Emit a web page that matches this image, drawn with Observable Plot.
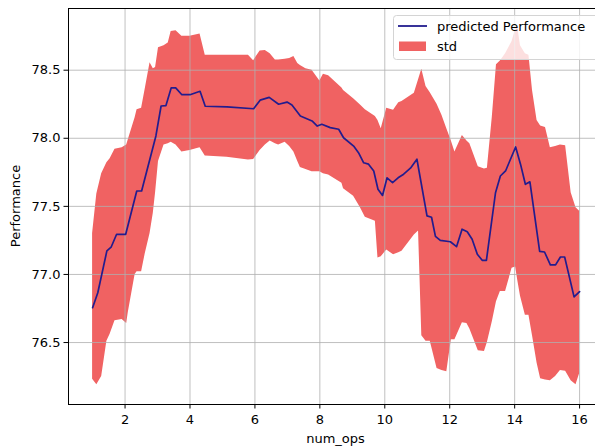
<!DOCTYPE html>
<html><head><meta charset="utf-8">
<script src="https://cdn.jsdelivr.net/npm/d3@7"></script>
<script src="https://cdn.jsdelivr.net/npm/@observablehq/plot@0.6"></script>
<style>body{margin:0;background:#fff;} svg{display:block}</style>
</head><body><div id="chart"></div>
<script>
const bandX  = [1.00,1.13,1.28,1.44,1.54,1.69,1.91,2.05,2.10,2.31,2.37,2.51,2.62,2.77,2.87,2.94,3.03,3.20,3.33,3.42,3.57,3.75,4.00,4.31,4.47,5.14,5.80,5.96,6.16,6.32,6.47,6.63,6.73,6.93,7.07,7.20,7.32,7.40,7.57,7.76,8.00,8.11,8.27,8.68,8.73,9.04,9.25,9.40,9.71,9.79,9.89,10.06,10.27,10.43,10.53,10.91,11.04,11.14,11.27,11.40,11.61,11.76,11.91,12.05,12.16,12.39,12.53,12.62,12.88,13.07,13.16,13.31,13.44,13.56,13.72,13.92,14.03,14.10,14.18,14.33,14.44,14.55,14.69,14.80,14.95,15.10,15.26,15.41,15.57,15.74,15.89,16.00];
const bandLo = [76.23,76.19,76.25,76.51,76.56,76.66,76.67,76.64,76.72,77.00,77.02,77.02,77.15,77.30,77.45,77.60,77.83,77.95,77.96,77.97,77.95,77.90,77.91,77.93,77.87,77.86,77.84,77.845,77.91,77.95,77.98,77.96,77.95,77.97,77.94,77.90,77.83,77.785,77.77,77.755,77.755,77.74,77.73,77.67,77.63,77.575,77.49,77.42,77.39,77.12,77.13,77.18,77.145,77.16,77.17,77.29,77.32,76.55,76.51,76.51,76.31,76.295,76.285,76.52,76.52,76.645,76.64,76.60,76.44,76.435,76.50,76.65,76.80,76.875,76.875,77.045,77.055,76.95,76.84,76.70,76.70,76.55,76.35,76.235,76.225,76.22,76.25,76.295,76.29,76.22,76.19,76.27];
const bandHi = [77.30,77.59,77.74,77.82,77.85,77.92,77.93,77.95,77.99,78.15,78.21,78.22,78.36,78.555,78.51,78.52,78.665,78.68,78.70,78.785,78.79,78.75,78.75,78.765,78.61,78.61,78.61,78.57,78.64,78.645,78.62,78.575,78.575,78.58,78.585,78.60,78.55,78.535,78.51,78.50,78.42,78.47,78.46,78.37,78.35,78.29,78.245,78.21,78.16,78.13,78.07,78.22,78.205,78.26,78.27,78.33,78.43,78.507,78.38,78.335,78.25,78.17,78.07,77.98,77.90,78.02,77.98,77.96,77.79,77.775,77.78,78.15,78.54,78.567,78.62,78.71,78.80,78.81,78.68,78.62,78.61,78.35,78.13,78.09,78.08,77.93,77.94,77.95,77.945,77.60,77.49,77.465];

const lineX = [1.00,1.16,1.44,1.57,1.74,2.02,2.36,2.51,2.95,3.11,3.26,3.42,3.56,3.75,4.00,4.31,4.47,5.14,5.96,6.16,6.44,6.73,6.99,7.14,7.40,7.76,7.92,8.06,8.32,8.58,8.73,9.04,9.19,9.35,9.50,9.66,9.79,9.93,10.07,10.24,10.41,10.58,10.79,10.99,11.30,11.44,11.56,11.71,12.02,12.21,12.38,12.54,12.69,12.85,13.00,13.13,13.41,13.56,13.72,14.03,14.18,14.33,14.47,14.77,14.92,15.10,15.26,15.41,15.54,15.83,16.00];
const lineY = [76.756,76.866,77.173,77.20,77.295,77.295,77.613,77.613,78.017,78.237,78.24,78.37,78.37,78.32,78.32,78.345,78.235,78.23,78.217,78.28,78.30,78.25,78.266,78.245,78.163,78.127,78.09,78.103,78.078,78.066,78.004,77.943,77.894,77.82,77.81,77.76,77.626,77.58,77.71,77.674,77.71,77.736,77.78,77.846,77.43,77.42,77.28,77.25,77.24,77.204,77.332,77.314,77.258,77.148,77.104,77.104,77.60,77.723,77.76,77.936,77.81,77.662,77.68,77.17,77.165,77.07,77.07,77.128,77.128,76.835,76.874];

const xTicks = [2,4,6,8,10,12,14,16];
const yTicks = [76.5,77.0,77.5,78.0,78.5];
const xDomain = [0.258, 16.49];
const yDomain = [76.045, 78.953];
const seriesNames = ["predicted Performance", "std"];
const bandColor = "#f06262";
const lineColor = "#221c8e";

const band = bandX.map((x, i) => ({x, lo: bandLo[i], hi: bandHi[i]}));
const line = lineX.map((x, i) => ({x, y: lineY[i]}));

const chart = Plot.plot({
  width: 595, height: 448,
  marginLeft: 68, marginTop: 8, marginBottom: 44, marginRight: 0,
  style: {fontFamily: "DejaVu Sans", fontSize: "13px", color: "#000", background: "#fff", overflow: "hidden"},
  x: {domain: xDomain},
  y: {domain: yDomain},
  marks: [
    Plot.areaY(band, {x: "x", y1: "lo", y2: "hi", fill: bandColor, curve: "linear"}),
    Plot.gridX(xTicks, {stroke: "#b0b0b0", strokeOpacity: 1, strokeWidth: 0.8}),
    Plot.gridY(yTicks, {stroke: "#b0b0b0", strokeOpacity: 1, strokeWidth: 0.8}),
    Plot.line(line, {x: "x", y: "y", stroke: lineColor, strokeWidth: 1.7, curve: "linear"}),
    Plot.ruleX([xDomain[0]], {stroke: "#000", strokeWidth: 1}),
    Plot.ruleY([yDomain[0], yDomain[1]], {stroke: "#000", strokeWidth: 1}),
    Plot.axisX(xTicks, {tickSize: 4.5, tickPadding: 5.5, tickFormat: d3.format("d"), label: null, fontSize: 13}),
    Plot.axisY(yTicks, {tickSize: 4.5, tickPadding: 3.5, tickFormat: d3.format(".1f"), label: null, fontSize: 13})
  ]
});
document.getElementById("chart").appendChild(chart);

const svg = d3.select(chart);
svg.append("text").attr("x", 335.5).attr("y", 438).attr("dy", "0.35em")
  .attr("text-anchor", "middle").attr("font-size", 13).attr("fill", "#000").text("num_ops");
svg.append("text").attr("transform", "translate(15,206) rotate(-90)").attr("dy", "0.35em")
  .attr("text-anchor", "middle").attr("font-size", 13).attr("fill", "#000").text("Performance");

const lg = svg.append("g");
lg.append("rect").attr("x", 393.5).attr("y", 15.5).attr("width", 210).attr("height", 44)
  .attr("rx", 3).attr("fill", "#fff").attr("fill-opacity", 0.8).attr("stroke", "#d4d4d4");
lg.append("line").attr("x1", 398).attr("x2", 427).attr("y1", 26).attr("y2", 26)
  .attr("stroke", lineColor).attr("stroke-width", 1.8);
lg.append("rect").attr("x", 399).attr("y", 41.5).attr("width", 27).attr("height", 9.5).attr("fill", bandColor);
lg.append("text").attr("x", 437).attr("y", 26).attr("dy", "0.35em").attr("text-anchor", "start").attr("font-size", 13).attr("fill", "#000").text(seriesNames[0]);
lg.append("text").attr("x", 437).attr("y", 46).attr("dy", "0.35em").attr("text-anchor", "start").attr("font-size", 13).attr("fill", "#000").text(seriesNames[1]);
</script>
</body></html>
